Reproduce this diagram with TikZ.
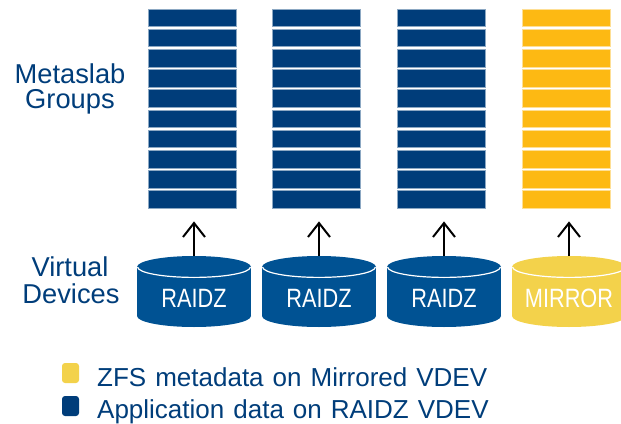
\documentclass[tikz,border=0pt]{standalone}
\usepackage{fontspec}
\setmainfont{Liberation Sans}
\newfontfamily\narrowsans[FakeStretch=0.82]{Liberation Sans}
\usetikzlibrary{arrows.meta}
\definecolor{stackblue}{RGB}{0,61,122}
\definecolor{cylblue}{RGB}{0,82,147}
\definecolor{stackyellow}{RGB}{253,185,19}
\definecolor{cylyellow}{RGB}{243,210,75}
\definecolor{textblue}{RGB}{0,61,122}
\newcommand{\legfont}{\fontsize{26}{28}\selectfont\spaceskip=9pt\relax}
\tikzset{
  stackframe/.style={inner sep=0pt, minimum width=88pt, minimum height=202pt, anchor=north west},
  slabbox/.style={line width=0.8pt},
  cyltext/.style={text=white, font=\narrowsans\fontsize{26.5}{28}\selectfont, anchor=base, inner sep=0pt},
  sidelabel/.style={text=textblue, font=\fontsize{27.3}{29}\selectfont, anchor=base, inner sep=0pt},
  legtext/.style={text=textblue, font=\legfont, anchor=base west, inner sep=0pt},
  legsq/.style={inner sep=0pt, minimum width=17pt, minimum height=20pt, rounded corners=3pt},
  uparrow/.style={line width=2pt, -{Straight Barb[length=14pt,width=22pt,line width=2pt]}, shorten >=10pt},
}
\begin{document}
\begin{tikzpicture}[x=1pt,y=-1pt]
\useasboundingbox (0,0) rectangle (621,423);
% metaslab stacks
\foreach \i/\c in {0/stackblue,1/stackblue,2/stackblue,3/stackyellow}{
  \pgfmathsetmacro\sx{148+124.7*\i}
  \node[stackframe] (s\i) at (\sx,9) {};
  \foreach \j in {0,...,9}{
    \filldraw[slabbox, fill=\c, draw=\c!45] (\sx,{9+20.2*\j}) rectangle ++(88,17.5);
  }
}
% virtual device cylinders
\foreach \i/\c/\t in {0/cylblue/RAIDZ,1/cylblue/RAIDZ,2/cylblue/RAIDZ,3/cylyellow/MIRROR}{
  \pgfmathsetmacro\cx{194+125*\i}
  \fill[\c] (\cx,316) ellipse [x radius=57pt, y radius=11pt];
  \fill[\c] ({\cx-57},267) rectangle ({\cx+57},316);
  \fill[\c] (\cx,267) ellipse [x radius=57pt, y radius=11pt];
  \begin{scope}
    \clip ({\cx-60},267) rectangle ({\cx+60},290);
    \draw[white, line width=1.2pt] (\cx,267) ellipse [x radius=56.4pt, y radius=10.4pt];
  \end{scope}
  \node[cyltext] (v\i) at (\cx,307) {\t};
  \coordinate (vt\i) at (\cx,256);
  \draw[uparrow] (vt\i) -- (vt\i |- s\i.south);
}
% side labels
\node[sidelabel] (la) at (70,83) {Metaslab};
\node[sidelabel] (lb) at (70,108) {Groups};
\node[sidelabel] (lc) at (70,276) {Virtual};
\node[sidelabel] (ld) at (71,303) {Devices};
% legend
\node[legsq, fill=cylyellow] (k1) at (70.5,373) {};
\node[legsq, fill=stackblue] (k2) at (70.5,406) {};
\node[legtext] (t1) at (97,386) {ZFS metadata on Mirrored VDEV};
\node[legtext] (t2) at (97,418) {Application data on RAIDZ VDEV};
\end{tikzpicture}
\end{document}
